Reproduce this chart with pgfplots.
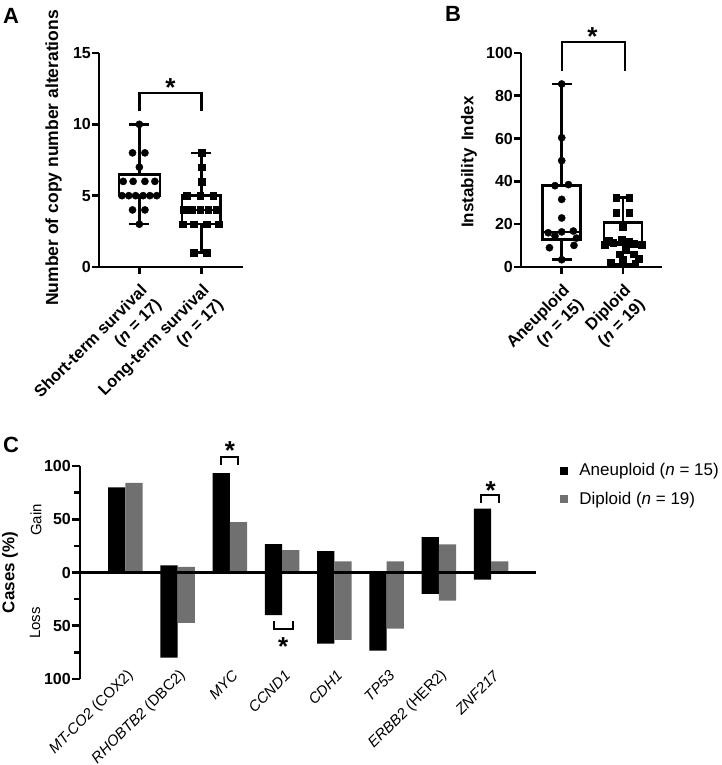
\documentclass[border=0pt]{standalone}
\usepackage{pgfplots}
\pgfplotsset{compat=1.18}
\usepgfplotslibrary{statistics}
\usepackage{fontspec}
\setmainfont{Liberation Sans}
\definecolor{bargray}{RGB}{112,112,112}
\tikzset{starnode/.style={font=\bfseries\fontsize{26}{30}\selectfont, anchor=base, yshift=-15pt, inner sep=0pt}}
\begin{document}
\begin{tikzpicture}
\path[use as bounding box] (0pt,0pt) rectangle (722pt,765pt);
\pgfplotsset{
  panelAB/.style={
    scale only axis, anchor=south west, clip=false,
    axis lines=left, axis line style={-, line width=2.6pt},
    tick align=outside, major tick length=7pt,
    tick style={line width=2.6pt, black},
    boxplot/draw direction=y,
    /pgf/number format/assume math mode=true,
    yticklabel style={font=\bfseries\fontsize{16}{19}\selectfont, inner sep=1pt},
    xticklabel style={align=right, font=\bfseries\fontsize{16.5}{20}\selectfont,
      xshift=0pt, yshift=-9pt, rotate=45, anchor=north east, inner sep=0pt},
    ylabel style={anchor=south, inner sep=0pt},
  },
}
% ---------------- Panel A ----------------
\node[anchor=north west, inner sep=0pt, font=\bfseries\fontsize{22}{26}\selectfont] at (3pt,757pt) {A};
\begin{axis}[panelAB, at={(99pt,498pt)}, width=144pt, height=214pt,
  xmin=0.35, xmax=2.67, ymin=0, ymax=15, ytick={0,5,10,15}, xtick={1,2},
  xticklabels={{Short-term survival\\(\textit{n} = 17)},{Long-term survival\\(\textit{n} = 17)}},
  ylabel={Number of copy number alterations},
  ylabel style={at={(axis description cs:-0.257,0.51)}, font=\bfseries\fontsize{17.5}{21}\selectfont}]
\addplot[black, line width=2.6pt, boxplot prepared={draw position=1, lower whisker=3,
  lower quartile=5, median=5, upper quartile=6.5, upper whisker=10, box extend=0.66, whisker extend=0.32}] coordinates {};
\addplot[black, line width=2.6pt, boxplot prepared={draw position=2, lower whisker=1,
  lower quartile=3, median=4, upper quartile=5, upper whisker=8, box extend=0.62, whisker extend=0.32}] coordinates {};
\addplot[only marks, mark=*, mark size=3.6pt, black] coordinates {
  (1,10) (0.89,8) (1.09,8) (1,7) (0.74,6) (0.9,6) (1.09,6) (1.25,6)
  (0.72,5) (0.83,5) (0.94,5) (1.06,5) (1.17,5) (1.28,5) (0.89,4) (1.09,4) (1,3)};
\addplot[only marks, mark=square*, mark size=3.4pt, black] coordinates {
  (2,8) (2,7) (2,6) (1.76,5) (1.98,5) (2.19,5) (1.71,4) (1.84,4) (1.98,4) (2.11,4) (2.25,4)
  (1.7,3) (1.88,3) (2.08,3) (2.28,3) (1.87,1) (2.09,1)};
\addplot[black, line width=2.4pt] coordinates {(1,10.9) (1,12.2) (2,12.2) (2,10.9)};
\node[starnode] at (axis cs:1.5,13.0) {*};
\end{axis}
% ---------------- Panel B ----------------
\node[anchor=north west, inner sep=0pt, font=\bfseries\fontsize{22}{26}\selectfont] at (445pt,759pt) {B};
\begin{axis}[panelAB, at={(521pt,498pt)}, width=141pt, height=214pt,
  xmin=0.336, xmax=2.636, ymin=0, ymax=100, ytick={0,20,40,60,80,100}, xtick={1,2},
  xticklabels={{Aneuploid\\(\textit{n} = 15)},{Diploid\\(\textit{n} = 19)}},
  ylabel={Instability\hspace{3pt} Index},
  ylabel style={at={(axis description cs:-0.312,0.49)}, font=\bfseries\fontsize{17}{20}\selectfont}]
\addplot[black, line width=2.6pt, boxplot prepared={draw position=1, lower whisker=3.4,
  lower quartile=12.8, median=16.4, upper quartile=38, upper whisker=85.5, box extend=0.62, whisker extend=0.33}] coordinates {};
\addplot[black, line width=2.6pt, boxplot prepared={draw position=2, lower whisker=1.3,
  lower quartile=10.3, median=11.5, upper quartile=20.7, upper whisker=32.5, box extend=0.62, whisker extend=0.33}] coordinates {};
\addplot[only marks, mark=*, mark size=3.6pt, black] coordinates {
  (1,85.5) (1,60.4) (1,49.7) (0.89,38) (1.11,38.5) (1,31.6) (1,22.9) (0.78,16) (1,16.4) (1.19,16.8)
  (0.89,14.5) (1.24,13.5) (0.8,9) (1.2,10.1) (1,3.4)};
\addplot[only marks, mark=square*, mark size=3.4pt, black] coordinates {
  (1.89,32.5) (2.1,32.5) (1.89,25.5) (2.1,25.5) (2,19) (1.76,12.5) (1.84,11.5) (1.98,13) (2.09,12) (2.17,11)
  (1.7,10.5) (2.3,10.5) (2.05,8) (1.94,6) (2.17,6) (1.8,2) (2,3.5) (2.2,1.5) (2.25,4)};
\addplot[black, line width=2.4pt] coordinates {(1,91.6) (1,105) (2.03,105) (2.03,91.6)};
\node[starnode] at (axis cs:1.5,110.6) {*};
\end{axis}
% ---------------- Panel C ----------------
\node[anchor=north west, inner sep=0pt, font=\bfseries\fontsize{22}{26}\selectfont] at (3pt,328pt) {C};
\node[rotate=90, font=\fontsize{15}{18}\selectfont] at (36pt,245pt) {Gain};
\node[rotate=90, font=\fontsize{15}{18}\selectfont] at (35pt,142pt) {Loss};
\begin{axis}[scale only axis, anchor=south west, at={(80pt,86pt)}, width=456pt, height=213pt, clip=false,
  xmin=-0.87, xmax=7.86, ymin=-100, ymax=100,
  axis lines=left, axis line style={-, line width=2.6pt}, x axis line style={draw=none},
  tick align=outside, major tick length=8pt, minor tick length=6pt,
  ytick style={line width=2.6pt, black}, xtick style={draw=none},
  ytick={-100,-50,0,50,100}, yticklabels={100,50,0,50,100}, minor ytick={-75,-25,25,75},
  /pgf/number format/assume math mode=true,
  yticklabel style={font=\bfseries\fontsize{16}{19}\selectfont, inner sep=1pt},
  xtick={0,1,2,3,4,5,6,7},
  xticklabels={{\textit{MT-CO2} (COX2)},{\textit{RHOBTB2} (DBC2)},{\textit{MYC}},{\textit{CCND1}},{\textit{CDH1}},{\textit{TP53}},{\textit{ERBB2} (HER2)},{\textit{ZNF217}}},
  xticklabel style={font=\fontsize{15}{18}\selectfont, xshift=5.5pt, yshift=14pt, rotate=45, anchor=east, inner sep=0pt},
  ylabel={Cases (\%)},
  ylabel style={at={(axis description cs:-0.136,0.5)}, anchor=south, inner sep=0pt, font=\bfseries\fontsize{17}{20}\selectfont},
  legend style={at={(axis description cs:1.053,0.911)}, anchor=west, draw=none, fill=none,
    font=\fontsize{17}{20}\selectfont, row sep=11pt, inner sep=0pt,
    /tikz/every odd column/.append style={column sep=9pt}},
  legend cell align=left]
\addplot[ybar, bar width=17.2pt, bar shift=-8.6pt, fill=black, draw=none,
  legend image code/.code={\fill[black] (0pt,-4pt) rectangle (8pt,4pt);}]
  coordinates {(0,80) (1,6.7) (2,93.3) (3,26.7) (4,20) (6,33.3) (7,60)};
\addlegendentry{Aneuploid (\textit{n} = 15)}
\addplot[ybar, bar width=17.2pt, bar shift=8.6pt, fill=bargray, draw=none,
  legend image code/.code={\fill[bargray] (0pt,-4pt) rectangle (8pt,4pt);}]
  coordinates {(0,84.2) (1,5.3) (2,47.4) (3,21.1) (4,10.5) (5,10.5) (6,26.3) (7,10.5)};
\addlegendentry{Diploid (\textit{n} = 19)}
\addplot[ybar, bar width=17.2pt, bar shift=-8.6pt, fill=black, draw=none, forget plot]
  coordinates {(1,-80) (3,-40) (4,-66.7) (5,-73.3) (6,-20) (7,-6.7)};
\addplot[ybar, bar width=17.2pt, bar shift=8.6pt, fill=bargray, draw=none, forget plot]
  coordinates {(1,-47.4) (4,-63.2) (5,-52.6) (6,-26.3)};
\addplot[black, line width=2.6pt, forget plot] coordinates {(-0.87,0) (7.86,0)};
\addplot[black, line width=2pt, forget plot] coordinates {(1.83,101) (1.83,108) (2.16,108) (2.16,101)};
\node[starnode] at (axis cs:2.0,120) {*};
\addplot[black, line width=2pt, forget plot] coordinates {(2.84,-46) (2.84,-53) (3.2,-53) (3.2,-46)};
\node[starnode] at (axis cs:3.02,-64) {*};
\addplot[black, line width=2pt, forget plot] coordinates {(6.81,65.7) (6.81,73) (7.16,73) (7.16,65.7)};
\node[starnode] at (axis cs:6.99,83) {*};
\end{axis}
\end{tikzpicture}
\end{document}
